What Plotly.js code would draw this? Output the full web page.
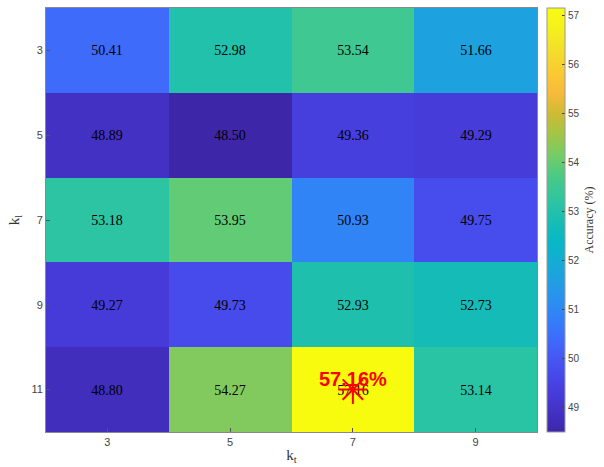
<!DOCTYPE html>
<html><head><meta charset="utf-8">
<script src="https://cdn.plot.ly/plotly-3.0.1.min.js"></script>
<style>html,body{margin:0;padding:0;background:#fff}</style>
</head><body><div id="chart" style="width:604px;height:467px"></div>
<script>
const kt = [3, 5, 7, 9];
const kl = [3, 5, 7, 9, 11];
const accuracy = [
  [50.41, 52.98, 53.54, 51.66],
  [48.89, 48.50, 49.36, 49.29],
  [53.18, 53.95, 50.93, 49.75],
  [49.27, 49.73, 52.93, 52.73],
  [48.80, 54.27, 57.16, 53.14]
];
const bestKt = [7];
const bestKl = [11];
const bestLabel = ['57.16%'];
const cbTicks = [49, 50, 51, 52, 53, 54, 55, 56, 57];

const parula = [
  [0.00,'rgb(62,38,168)'],[0.05,'rgb(67,50,198)'],[0.10,'rgb(71,62,222)'],
  [0.15,'rgb(71,78,238)'],[0.20,'rgb(67,98,250)'],[0.25,'rgb(55,120,250)'],
  [0.30,'rgb(45,140,243)'],[0.35,'rgb(34,157,227)'],[0.40,'rgb(20,172,212)'],
  [0.45,'rgb(8,183,198)'],[0.50,'rgb(25,190,178)'],[0.55,'rgb(48,198,158)'],
  [0.60,'rgb(72,201,137)'],[0.65,'rgb(115,204,104)'],[0.70,'rgb(160,198,72)'],
  [0.75,'rgb(205,187,52)'],[0.80,'rgb(248,186,58)'],[0.85,'rgb(250,203,50)'],
  [0.90,'rgb(243,222,42)'],[0.95,'rgb(244,240,30)'],[1.00,'rgb(249,251,14)']
];

const heat = {
  type: 'heatmap', x: kt, y: kl, z: accuracy,
  colorscale: parula, zmin: 48.50, zmax: 57.16,
  texttemplate: '%{z:.2f}',
  textfont: {family: 'Liberation Serif, Times New Roman, serif', size: 14, color: '#000'},
  hoverinfo: 'none',
  colorbar: {
    x: 1.02, xanchor: 'left', xpad: 0, ypad: 0, y: 0.5, len: 1, lenmode: 'fraction',
    thickness: 18, outlinecolor: '#999', outlinewidth: 1,
    tickvals: cbTicks, ticks: 'inside', ticklen: 3, tickcolor: '#444',
    tickfont: {family: 'Liberation Sans, Arial, sans-serif', size: 10, color: '#444'},
    title: {text: 'Accuracy (%)', side: 'right',
      font: {family: 'Liberation Serif, Times New Roman, serif', size: 12, color: '#333'}}
  }
};

const star = {
  type: 'scatter', mode: 'markers', x: bestKt, y: bestKl,
  marker: {symbol: 'asterisk-open', size: 24, color: 'red', line: {color: 'red', width: 2}},
  hoverinfo: 'none', showlegend: false
};

const layout = {
  width: 604, height: 467,
  margin: {l: 46, r: 60, t: 8, b: 35},
  paper_bgcolor: '#fff', plot_bgcolor: '#fff',
  showlegend: false,
  xaxis: {
    range: [2, 10], tickvals: kt, ticks: 'inside', ticklen: 4, tickcolor: '#555',
    showgrid: false, zeroline: false, showline: true, linecolor: '#888', mirror: true,
    tickfont: {family: 'Liberation Sans, Arial, sans-serif', size: 11, color: '#444'},
    title: {text: 'k<sub>t</sub>', standoff: 2,
      font: {family: 'Liberation Serif, Times New Roman, serif', size: 15, color: '#333'}}
  },
  yaxis: {
    range: [12, 2], tickvals: kl, ticks: 'inside', ticklen: 4, tickcolor: '#555',
    showgrid: false, zeroline: false, showline: true, linecolor: '#888', mirror: true,
    tickfont: {family: 'Liberation Sans, Arial, sans-serif', size: 11, color: '#444'},
    title: {text: 'k<sub>l</sub>', standoff: 8,
      font: {family: 'Liberation Serif, Times New Roman, serif', size: 15, color: '#333'}}
  },
  annotations: [{
    x: bestKt[0], y: bestKl[0], xref: 'x', yref: 'y', text: bestLabel[0],
    showarrow: false, yshift: 11,
    font: {family: 'Liberation Sans, Arial, sans-serif', size: 20, color: 'red', weight: 'bold'}
  }]
};

Plotly.newPlot('chart', [heat, star], layout, {displayModeBar: false, staticPlot: true});
</script></body></html>
